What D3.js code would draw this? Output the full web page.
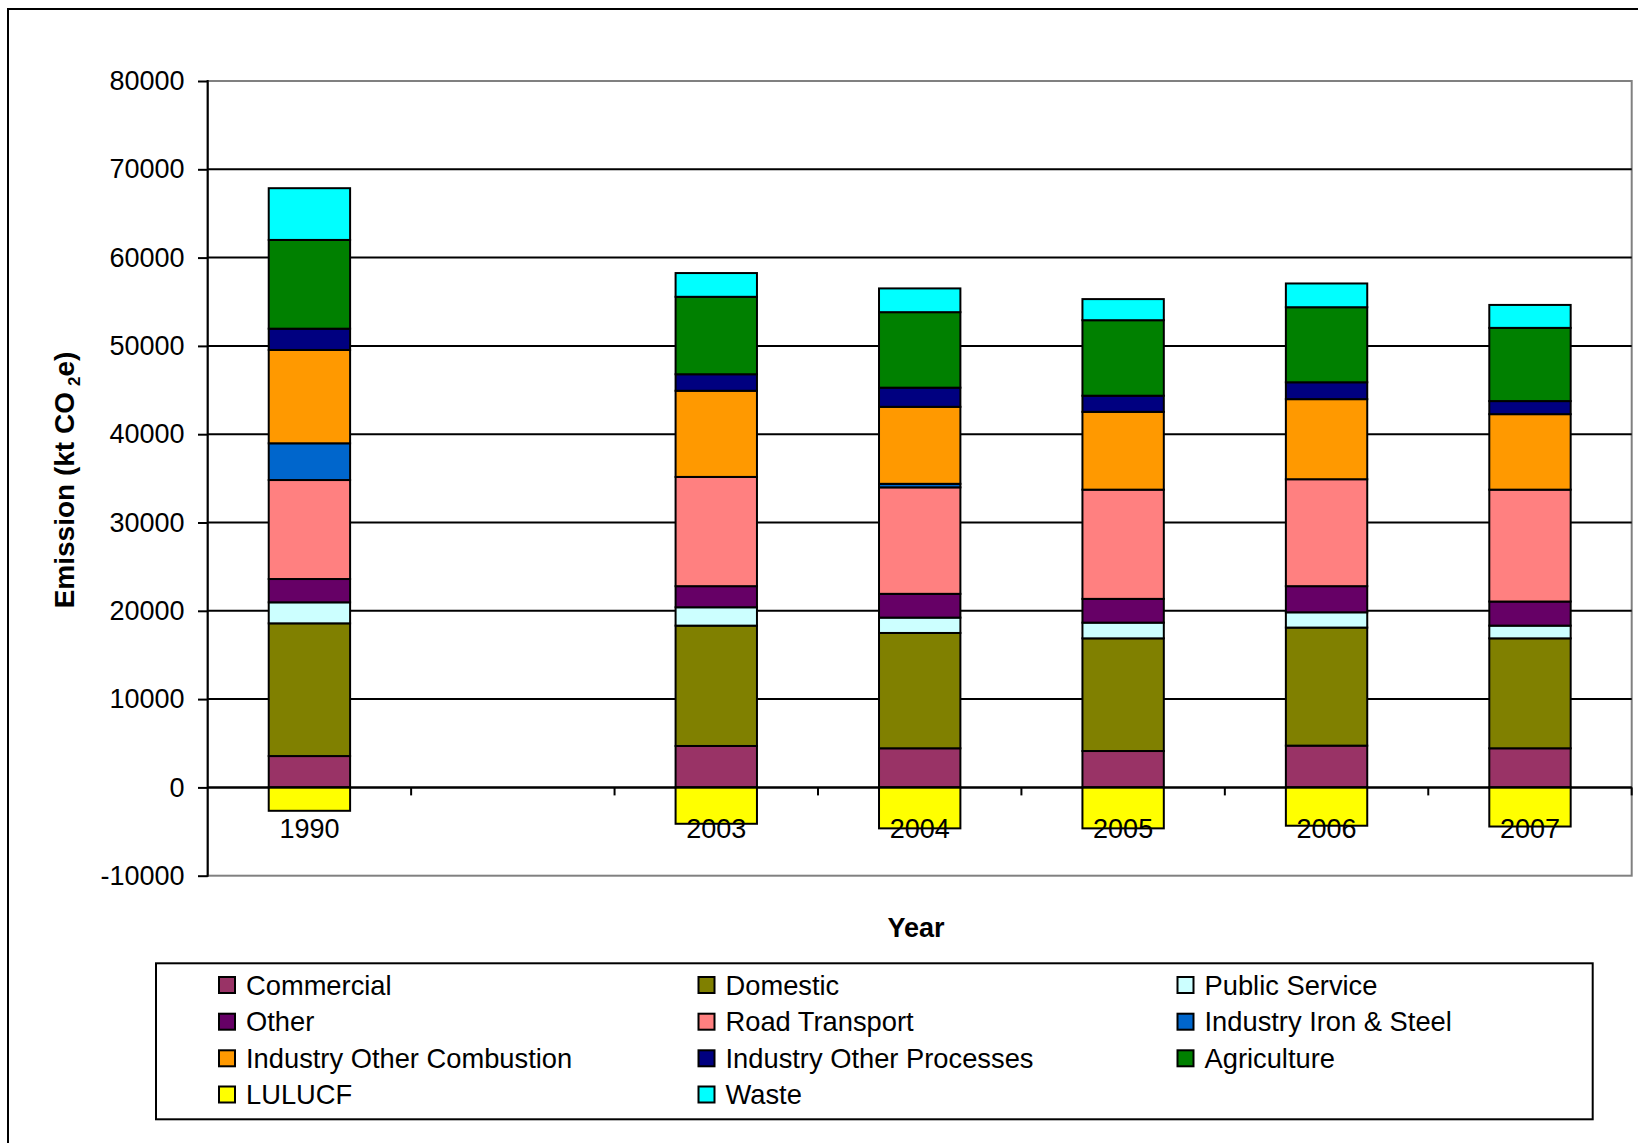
<!DOCTYPE html>
<html>
<head>
<meta charset="utf-8">
<script src="https://cdn.jsdelivr.net/npm/d3@7"></script>
<style>
  html, body { margin: 0; padding: 0; background: #fff; }
  svg { display: block; }
  text { font-family: "Liberation Sans", Arial, sans-serif; fill: #000; }
</style>
</head>
<body>
<div id="chart"></div>
<script>
// ---- Data (kt CO2e) ----
const categories = ["1990", "", "2003", "2004", "2005", "2006", "2007"];
const seriesNames = ["Commercial", "Domestic", "Public Service", "Other", "Road Transport",
  "Industry Iron & Steel", "Industry Other Combustion", "Industry Other Processes",
  "Agriculture", "LULUCF", "Waste"];
const commercial      = [3550, null, 4690, 4430, 4120, 4730, 4430];
const domestic        = [15030, null, 13630, 13060, 12760, 13370, 12450];
const publicService   = [2380, null, 2080, 1740, 1780, 1730, 1440];
const other           = [2640, null, 2390, 2690, 2690, 2960, 2730];
const roadTransport   = [11210, null, 12370, 12060, 12370, 12110, 12670];
const ironSteel       = [4160, null, 0, 400, 0, 0, 0];
const otherCombustion = [10570, null, 9760, 8720, 8810, 9070, 8550];
const otherProcesses  = [2410, null, 1870, 2170, 1830, 1910, 1480];
const agriculture     = [10050, null, 8770, 8550, 8550, 8500, 8290];
const lulucf          = [-2650, null, -4120, -4640, -4640, -4340, -4430];
const waste           = [5860, null, 2690, 2690, 2390, 2690, 2600];
const yTicks = [-10000, 0, 10000, 20000, 30000, 40000, 50000, 60000, 70000, 80000];
const seriesColors = ["#993366", "#808000", "#CCFFFF", "#660066", "#FF8080",
  "#0066CC", "#FF9900", "#000080", "#008000", "#FFFF00", "#00FFFF"];

const seriesValues = [commercial, domestic, publicService, other, roadTransport,
  ironSteel, otherCombustion, otherProcesses, agriculture, lulucf, waste];

const table = categories.map((c, i) => {
  const row = { cat: c };
  seriesNames.forEach((s, j) => { row[s] = seriesValues[j][i] || 0; });
  row.empty = seriesValues[0][i] === null;
  return row;
});

// ---- Layout ----
const W = 1638, H = 1143;
const plot = { left: 207.7, right: 1631.7, top: 81, bottom: 875.7 };
const FONT = 27;

const svg = d3.select("#chart").append("svg").attr("width", W).attr("height", H);

// outer chart border
svg.append("rect").attr("x", 8).attr("y", 9).attr("width", W + 20).attr("height", H + 20)
  .attr("fill", "#fff").attr("stroke", "#000").attr("stroke-width", 2);

const x = d3.scaleBand().domain(categories).range([plot.left, plot.right]).paddingInner(0).paddingOuter(0);
const y = d3.scaleLinear().domain([-10000, 80000]).range([plot.bottom, plot.top]);
const barW = x.bandwidth() / 2.5;

// plot area border (gray)
svg.append("rect").attr("x", plot.left).attr("y", plot.top)
  .attr("width", plot.right - plot.left).attr("height", plot.bottom - plot.top)
  .attr("fill", "none").attr("stroke", "#808080").attr("stroke-width", 2);

// gridlines
svg.append("g").selectAll("line").data(yTicks.filter(t => t > -10000 && t < 80000)).join("line")
  .attr("x1", plot.left).attr("x2", plot.right)
  .attr("y1", d => y(d)).attr("y2", d => y(d))
  .attr("stroke", "#000").attr("stroke-width", 2);

// stacked bars
const stack = d3.stack().keys(seriesNames).offset(d3.stackOffsetDiverging);
const stacked = stack(table);

const gBars = svg.append("g");
stacked.forEach((layer, j) => {
  gBars.append("g").selectAll("rect")
    .data(layer.filter(d => !d.data.empty && d[1] - d[0] !== 0))
    .join("rect")
    .attr("x", d => x(d.data.cat) + (x.bandwidth() - barW) / 2)
    .attr("width", barW)
    .attr("y", d => y(Math.max(d[0], d[1])))
    .attr("height", d => Math.abs(y(d[0]) - y(d[1])))
    .attr("fill", seriesColors[j])
    .attr("stroke", "#000").attr("stroke-width", 2);
});

// x axis line at 0 with tick marks at category boundaries
const y0 = y(0);
svg.append("line").attr("x1", plot.left).attr("x2", plot.right)
  .attr("y1", y0).attr("y2", y0).attr("stroke", "#000").attr("stroke-width", 2);
const boundaries = categories.slice(1).map(c => x(c)).concat([plot.right]);
svg.append("g").selectAll("line").data(boundaries).join("line")
  .attr("x1", d => d).attr("x2", d => d)
  .attr("y1", y0).attr("y2", y0 + 8)
  .attr("stroke", "#000").attr("stroke-width", 2);

// y axis
const yAxis = d3.axisLeft(y).tickValues(yTicks).tickSize(9.7).tickPadding(13.5).tickFormat(d => String(d));
const gy = svg.append("g").attr("transform", `translate(${plot.left},0)`).call(yAxis);
gy.select(".domain").remove();
gy.selectAll(".tick line").attr("stroke", "#000").attr("stroke-width", 2);
gy.selectAll(".tick text").attr("font-size", FONT).attr("font-family", '"Liberation Sans", Arial, sans-serif').attr("fill", "#000");
svg.append("line").attr("x1", plot.left).attr("x2", plot.left)
  .attr("y1", plot.top - 1).attr("y2", plot.bottom + 1)
  .attr("stroke", "#000").attr("stroke-width", 2);

// category labels
svg.append("g").selectAll("text").data(categories).join("text")
  .attr("x", d => x(d) + x.bandwidth() / 2)
  .attr("y", 838)
  .attr("text-anchor", "middle")
  .attr("font-size", FONT)
  .text(d => d);

// axis titles
svg.append("text").attr("x", 916).attr("y", 937).attr("text-anchor", "middle")
  .attr("font-size", FONT).attr("font-weight", "bold").text("Year");

const yt = svg.append("text")
  .attr("transform", "translate(74,480) rotate(-90)")
  .attr("text-anchor", "middle")
  .attr("font-size", 28).attr("font-weight", "bold");
yt.append("tspan").text("Emission (kt CO");
yt.append("tspan").attr("font-size", 17).attr("dx", 6).attr("dy", 6).text("2");
yt.append("tspan").attr("dy", -6).text("e)");

// legend
const legend = { x: 156, y: 963.3, w: 1436.7, h: 156 };
svg.append("rect").attr("x", legend.x).attr("y", legend.y).attr("width", legend.w).attr("height", legend.h)
  .attr("fill", "#fff").attr("stroke", "#000").attr("stroke-width", 2);
const colX = [219, 698.5, 1177.5];
const rowY = [985, 1021.7, 1058.3, 1094.5];
const lg = svg.append("g").selectAll("g").data(seriesNames).join("g")
  .attr("transform", (d, i) => `translate(${colX[i % 3]},${rowY[Math.floor(i / 3)]})`);
lg.append("rect").attr("x", 0).attr("y", -8).attr("width", 16).attr("height", 16)
  .attr("fill", (d, i) => seriesColors[i]).attr("stroke", "#000").attr("stroke-width", 2);
lg.append("text").attr("x", 27).attr("y", 0).attr("dy", "0.35em")
  .attr("font-size", 27.3).text(d => d);
</script>
</body>
</html>
